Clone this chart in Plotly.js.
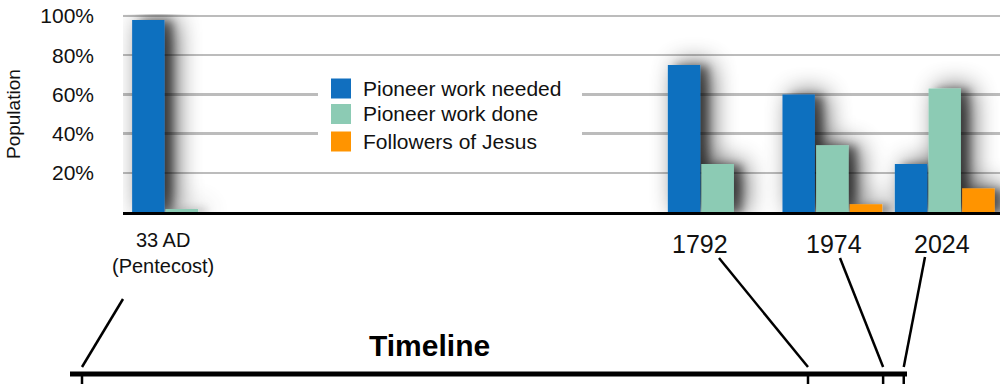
<!DOCTYPE html>
<html>
<head>
<meta charset="utf-8">
<script src="https://cdn.plot.ly/plotly-3.0.1.min.js"></script>
<style>
  body { margin: 0; background: #fff; }
  #chart { width: 1008px; height: 384px; }
</style>
</head>
<body>
<div id="chart"></div>
<script>
// data
var eras = ['33 AD<br>(Pentecost)', '1792', '1974', '2024'];
var years = [33, 1792, 1974, 2024];
var groupPos = [0, 4.72, 5.73, 6.72];   // where each era sits on the x axis
var needed = [98, 75, 60, 24.5];
var done = [1.5, 24.5, 34, 63];
var followers = [0, 0, 4, 12];
var seriesNames = ['Pioneer work needed', 'Pioneer work done', 'Followers of Jesus'];
var seriesColors = ['#116fbf', '#8ccbb4', '#ff9400'];
var yTicks = [20, 40, 60, 80, 100];

var W = 1008, H = 384, ML = 123, MR = 8, MT = 14, MB = 172;
var plotW = W - ML - MR, plotH = H - MT - MB;
function fx(px) { return (px - ML) / plotW; }
function fy(py) { return (H - MB - py) / plotH; }

var font = 'Helvetica Neue, Helvetica, Liberation Sans, Arial, sans-serif';

var traces = [needed, done, followers].map(function (vals, i) {
  return {
    type: 'bar', x: groupPos, y: vals, name: seriesNames[i],
    marker: { color: seriesColors[i], line: { width: 0 } },
    hoverinfo: 'skip', showlegend: false
  };
});

// timeline under the chart, positions scale with the year
function tx(yr) { return 82 + (yr - 33) * 726 / 1759; }
var connTop = [[123, 299], [719, 258], [840, 258], [925, 257]];

var shapes = [{
  type: 'line', xref: 'paper', yref: 'paper',
  x0: fx(70), x1: fx(907), y0: fy(374), y1: fy(374),
  line: { color: '#000', width: 5 }
}];
years.forEach(function (yr, i) {
  shapes.push({
    type: 'line', xref: 'paper', yref: 'paper',
    x0: fx(tx(yr)), y0: fy(367), x1: fx(connTop[i][0]), y1: fy(connTop[i][1]),
    line: { color: '#000', width: 2.5 }
  });
  shapes.push({
    type: 'line', xref: 'paper', yref: 'paper',
    x0: fx(tx(yr)), y0: fy(374), x1: fx(tx(yr)), y1: fy(386),
    line: { color: '#000', width: 2.5 }
  });
});

// legend drawn by hand so the squares and spacing match
shapes.push({
  type: 'rect', xref: 'paper', yref: 'paper', layer: 'above',
  x0: fx(318), x1: fx(582), y0: fy(72), y1: fy(158),
  fillcolor: '#fff', line: { width: 0 }
});
var legRows = [88.5, 114, 141.5];
seriesNames.forEach(function (n, i) {
  shapes.push({
    type: 'rect', xref: 'paper', yref: 'paper', layer: 'above',
    x0: fx(331), x1: fx(351), y0: fy(legRows[i] - 10), y1: fy(legRows[i] + 10),
    fillcolor: seriesColors[i], line: { width: 0 }
  });
});

var labelX = [-0.17, 4.56, 5.74, 6.70];
var annotations = eras.map(function (e, i) {
  return {
    text: e, x: labelX[i], xref: 'x', y: fy(i === 0 ? 227 : 228), yref: 'paper',
    xanchor: 'center', yanchor: 'top', showarrow: false,
    font: { family: font, size: i === 0 ? 20 : 25, color: '#111' }
  };
});
seriesNames.forEach(function (n, i) {
  annotations.push({
    text: n, xref: 'paper', yref: 'paper', x: fx(361), y: fy(legRows[i]),
    xanchor: 'left', yanchor: 'middle', showarrow: false,
    font: { family: font, size: 21, color: '#111' }
  });
});
annotations.push({
  text: 'Population', textangle: -90, xref: 'paper', yref: 'paper',
  x: fx(14), y: fy(114), xanchor: 'center', yanchor: 'middle', showarrow: false,
  font: { family: font, size: 19, color: '#111' }
});
annotations.push({
  text: '<b>Timeline</b>', xref: 'paper', yref: 'paper',
  x: fx(429), y: fy(345), xanchor: 'center', yanchor: 'middle', showarrow: false,
  font: { family: font, size: 30, color: '#000' }
});

var layout = {
  width: W, height: H,
  margin: { l: ML, r: MR, t: MT, b: MB },
  barmode: 'group', bargap: 0.1, bargroupgap: 0.04,
  paper_bgcolor: '#fff', plot_bgcolor: '#fff',
  font: { family: font, color: '#111' },
  showlegend: false,
  xaxis: {
    range: [-0.52, 7.207], showticklabels: false, showgrid: false,
    zeroline: false, showline: true, linecolor: '#000', linewidth: 3,
    fixedrange: true
  },
  yaxis: {
    range: [0, 101], tickvals: yTicks,
    ticktext: yTicks.map(function (v) { return v + '%'; }),
    tickfont: { family: font, size: 21, color: '#111' },
    ticklabelstandoff: 28,
    showgrid: true, gridcolor: '#bcbcbc', gridwidth: 2.5,
    zeroline: false, showline: false, fixedrange: true
  },
  shapes: shapes,
  annotations: annotations
};

function el(tag, attrs) {
  var n = document.createElementNS('http://www.w3.org/2000/svg', tag);
  for (var k in attrs) n.setAttribute(k, attrs[k]);
  return n;
}

function addShadow() {
  // two blurred layers: a tight dark one and a wide soft one
  var svg = document.querySelector('#chart svg.main-svg');
  var defs = svg.querySelector('defs') || svg.insertBefore(el('defs', {}), svg.firstChild);
  var f = el('filter', { id: 'barShadow', filterUnits: 'userSpaceOnUse',
    x: '-300', y: '-200', width: '1600', height: '800' });
  f.appendChild(el('feGaussianBlur', { 'in': 'SourceAlpha', stdDeviation: '4', result: 'b1' }));
  f.appendChild(el('feOffset', { 'in': 'b1', dx: '8', dy: '1', result: 'o1' }));
  var ct1 = el('feComponentTransfer', { 'in': 'o1', result: 's1' });
  ct1.appendChild(el('feFuncA', { type: 'linear', slope: '0.45' }));
  f.appendChild(ct1);
  f.appendChild(el('feGaussianBlur', { 'in': 'SourceAlpha', stdDeviation: '13', result: 'b2' }));
  f.appendChild(el('feOffset', { 'in': 'b2', dx: '10', dy: '0', result: 'o2' }));
  var ct2 = el('feComponentTransfer', { 'in': 'o2', result: 's2' });
  ct2.appendChild(el('feFuncA', { type: 'linear', slope: '0.75' }));
  f.appendChild(ct2);
  var merge = el('feMerge', {});
  merge.appendChild(el('feMergeNode', { 'in': 's2' }));
  merge.appendChild(el('feMergeNode', { 'in': 's1' }));
  merge.appendChild(el('feMergeNode', { 'in': 'SourceGraphic' }));
  f.appendChild(merge);
  defs.appendChild(f);
  document.querySelectorAll('#chart .barlayer').forEach(function (g) {
    g.setAttribute('filter', 'url(#barShadow)');
  });
}

Plotly.newPlot('chart', traces, layout, { displayModeBar: false, staticPlot: true }).then(addShadow);
</script>
</body>
</html>
